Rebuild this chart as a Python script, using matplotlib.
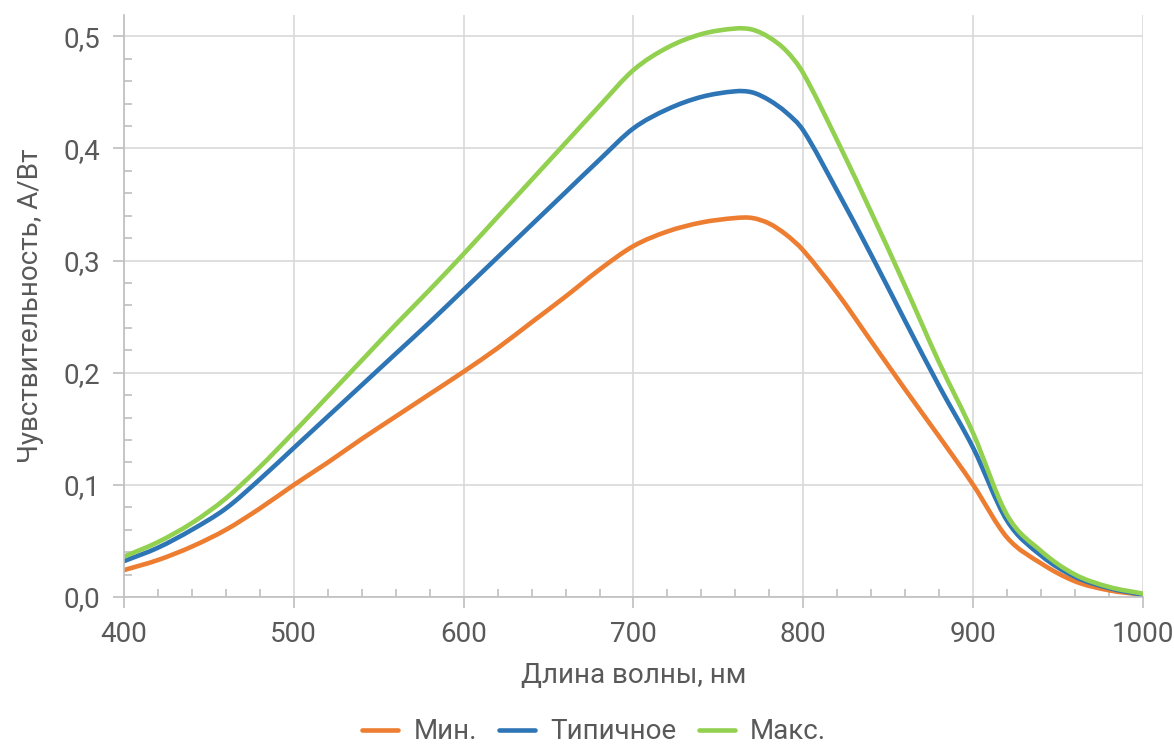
import matplotlib
matplotlib.use("Agg")
import matplotlib.pyplot as plt
from matplotlib.path import Path
from matplotlib.patches import PathPatch
from matplotlib.lines import Line2D
from matplotlib.ticker import MultipleLocator, FuncFormatter

# wavelength, nm
wavelength = [400, 420, 440, 460, 480, 500, 520, 540, 560, 580, 600, 620, 640, 660, 680,
              700, 720, 740, 760, 770, 780, 790, 800, 820, 840, 860, 880, 900, 920, 940,
              960, 980, 1000]

# responsivity, A/W
resp_min = [0.024, 0.033, 0.045, 0.060, 0.079, 0.100, 0.120, 0.141, 0.161, 0.181, 0.201,
            0.222, 0.245, 0.268, 0.292, 0.313, 0.326, 0.334, 0.338, 0.338, 0.333, 0.323,
            0.309, 0.271, 0.228, 0.185, 0.143, 0.100, 0.053, 0.030, 0.014, 0.006, 0.002]
resp_typ = [0.032, 0.044, 0.060, 0.079, 0.105, 0.133, 0.161, 0.189, 0.217, 0.245, 0.274,
            0.303, 0.332, 0.361, 0.390, 0.418, 0.435, 0.446, 0.451, 0.450, 0.443, 0.432,
            0.416, 0.362, 0.305, 0.246, 0.188, 0.133, 0.068, 0.037, 0.018, 0.008, 0.002]
resp_max = [0.036, 0.049, 0.066, 0.088, 0.116, 0.147, 0.179, 0.211, 0.243, 0.274, 0.306,
            0.339, 0.372, 0.405, 0.438, 0.470, 0.490, 0.502, 0.507, 0.506, 0.499, 0.487,
            0.467, 0.407, 0.343, 0.277, 0.209, 0.146, 0.073, 0.041, 0.020, 0.009, 0.003]

series = [("Мин.", resp_min, "#ED7D31"),
          ("Типичное", resp_typ, "#2E75B6"),
          ("Макс.", resp_max, "#92D050")]

plt.rcParams['font.family'] = ['Roboto', 'DejaVu Sans']
text_color = '#595959'
grid_color = '#D9D9D9'
spine_color = '#BFBFBF'


def smooth_path(xs, ys):
    # smoothed line like in excel: cubic bezier through every point
    n = len(xs)
    slopes = []
    for i in range(n):
        a, b = max(i - 1, 0), min(i + 1, n - 1)
        slopes.append((ys[b] - ys[a]) / (xs[b] - xs[a]))
    verts = [(xs[0], ys[0])]
    codes = [Path.MOVETO]
    for i in range(n - 1):
        h = (xs[i + 1] - xs[i]) / 3
        verts += [(xs[i] + h, ys[i] + slopes[i] * h),
                  (xs[i + 1] - h, ys[i + 1] - slopes[i + 1] * h),
                  (xs[i + 1], ys[i + 1])]
        codes += [Path.CURVE4] * 3
    return Path(verts, codes)


fig = plt.figure(figsize=(11.74, 7.49), dpi=100)
ax = fig.add_axes([0.1056, 0.2029, 0.868, 0.777])

handles = []
for name, vals, color in series:
    ax.add_patch(PathPatch(smooth_path(wavelength, vals), fill=False, edgecolor=color,
                           lw=3.3, capstyle='round', joinstyle='round'))
    handles.append(Line2D([], [], color=color, lw=3.3, solid_capstyle='round', label=name))

ax.set_xlim(400, 1000)
ax.set_ylim(0, 0.519)
ax.xaxis.set_major_locator(MultipleLocator(100))
ax.xaxis.set_minor_locator(MultipleLocator(20))
ax.yaxis.set_major_locator(MultipleLocator(0.1))
ax.yaxis.set_minor_locator(MultipleLocator(0.02))
ax.yaxis.set_major_formatter(FuncFormatter(lambda v, p: f"{v:.1f}".replace('.', ',')))

ax.grid(True, which='major', color=grid_color, lw=1.2)
ax.set_axisbelow(True)
for s in ['top', 'right']:
    ax.spines[s].set_visible(False)
for s in ['left', 'bottom']:
    ax.spines[s].set_color(spine_color)
    ax.spines[s].set_linewidth(1.2)

ax.tick_params(which='major', direction='out', length=8, width=1.2, color=spine_color,
               labelsize=20, labelcolor=text_color, pad=9)
ax.tick_params(which='minor', direction='in', length=6, width=1.2, color=spine_color)

ax.set_xlabel("Длина волны, нм", fontsize=20, color=text_color, labelpad=10)
ax.set_ylabel("Чувствительность, А/Вт", fontsize=20, color=text_color, labelpad=14)

fig.legend(handles=handles, loc='center', bbox_to_anchor=(0.506, 0.023), ncol=3,
           frameon=False, fontsize=20, labelcolor=text_color, handlelength=1.3,
           columnspacing=0.8, handletextpad=0.55)

fig.savefig("out.png", dpi=100)
